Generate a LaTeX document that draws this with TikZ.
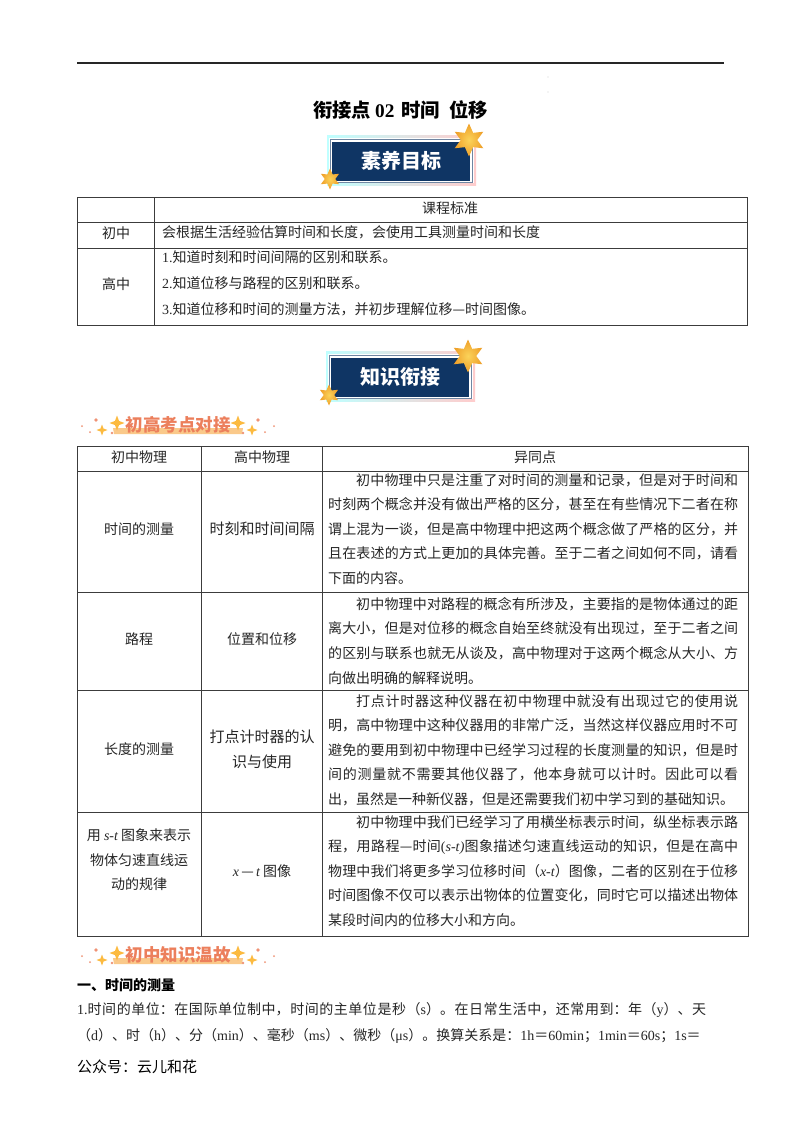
\documentclass[tikz,border=0pt]{standalone}
\usepackage{fontspec}
\setmainfont{Noto Sans CJK SC}
\newfontfamily\latfont{Liberation Serif}
\usetikzlibrary{shapes.geometric}
\XeTeXlinebreaklocale "zh"
\XeTeXlinebreakskip=0pt plus 3pt
\newcommand{\lat}[1]{{\latfont #1}}
\definecolor{navyfill}{HTML}{0F3564}
\definecolor{goldstar}{HTML}{FBD35A}
\definecolor{goldedge}{HTML}{EFA02A}
\definecolor{barfill}{HTML}{FAC98A}
\definecolor{bartext}{HTML}{EC7F5C}
\definecolor{inktext}{HTML}{262626}
\definecolor{gridline}{HTML}{3C3C3C}
% 标题牌：名字, 中心x, 中心y, 文字
\newcommand{\badge}[4]{
  \fill[left color=cyan!25,right color=red!20] (#2-74,#3-26) rectangle (#2+75,#3+24);
  \fill[white] (#2-72,#3-23) rectangle (#2+73,#3+22);
  \draw[navyfill!60,line width=.8] (#2-71,#3-22) rectangle (#2+71,#3+21);
  \node[badgebox] (#1) at (#2,#3) {#4};
  \node[bigstar,minimum size=33] (#1big) at (#2+68,#3-21) {};
  \node[bigstar,minimum size=21] (#1small) at (#2-71,#3+18) {};
}
% 橙色小标题：名字, 中心x, 中心y, 文字
\newcommand{\sparkbar}[4]{
  \fill[barfill] (#2-65,#3+3) -- (#2+65,#3+3) -- (#2+64,#3+9) -- (#2-64,#3+9) -- cycle;
  \node[bartitle] (#1) at (#2,#3) {#4};
  \foreach \dx/\dy/\sz in {-61/-2/15,60/-2/15,-76/5/11,74/5/11}
    \node[sparkle,minimum size=\sz] at (#2+\dx,#3+\dy) {};
  \foreach \dx/\dy/\rr in {-96/1/1,-88/7/1,-82/-5/1.8,-66/8/1.3,65/8/1.3,80/-5/1.8,87/7/1,96/1/1}
    \fill[bartext!85] (#2+\dx,#3+\dy) circle (\rr);
}
\begin{document}
\begin{tikzpicture}[x=1pt,y=-1pt,
  bodytext/.style={font=\fontsize{14}{24.6}\selectfont,text=inktext,inner sep=0pt},
  cellc/.style={bodytext,align=center},
  cellj/.style={bodytext,anchor=north west,text width=410,align=justify},
  linetext/.style={bodytext,anchor=west},
  grid/.style={gridline,line width=1},
  badgebox/.style={fill=navyfill,minimum width=138,minimum height=39,inner sep=0pt,text=white,font=\fontsize{20}{24}\bfseries\selectfont},
  bigstar/.style={star,star points=6,star point ratio=2,inner color=goldstar,outer color=goldedge,inner sep=0pt},
  sparkle/.style={star,star points=4,star point ratio=2.6,fill=goldstar!70!orange,inner sep=0pt},
  bartitle/.style={text=bartext,font=\fontsize{17.5}{20}\bfseries\selectfont,inner sep=0pt},
]
  \useasboundingbox (0,0) rectangle (800,1132);
  \fill[white] (0,0) rectangle (800,1132);

  \draw[black!85,line width=1.3] (77,63) -- (724,63);
  \fill[black!50] (548,77) circle (.4) (548,92) circle (.4);
  \node[font=\fontsize{19.3}{22}\bfseries\selectfont,inner sep=0pt] (title) at (400.5,110) {衔接点\hspace{4pt}\lat{02}\hspace{7pt}时间\hspace{9pt}位移};

  \badge{goal}{401}{161}{素养目标}

  % 课程标准
  \draw[grid] (77,197) rectangle (747,325);
  \draw[grid] (154,197) -- (154,325);
  \foreach \y in {222,248} \draw[grid] (77,\y) -- (747,\y);
  \node[cellc] (std) at (450,208) {课程标准};
  \node[cellc] (juna) at (116,233) {初中};
  \node[cellc] (sena) at (116,284) {高中};
  \node[linetext] (junb) at (162,232) {会根据生活经验估算时间和长度，会使用工具测量时间和长度};
  \node[linetext] (senb) at (162,257) {\lat{1.}知道时刻和时间间隔的区别和联系。};
  \node[linetext] (senc) at (162,283) {\lat{2.}知道位移与路程的区别和联系。};
  \node[linetext] (send) at (162,309) {\lat{3.}知道位移和时间的测量方法，并初步理解位移—时间图像。};

  \badge{link}{400}{377}{知识衔接}
  \sparkbar{barone}{178}{425}{初高考点对接}

  % 对比表
  \draw[grid] (77,446) rectangle (748,936);
  \draw[grid] (201,446) -- (201,936);
  \draw[grid] (322,446) -- (322,936);
  \foreach \y in {471,592,690,812} \draw[grid] (77,\y) -- (748,\y);
  \node[cellc] (heada) at (139,457) {初中物理};
  \node[cellc] (headb) at (262,457) {高中物理};
  \node[cellc] (headc) at (535,457) {异同点};
  \node[cellc] (rowaa) at (139,529) {时间的测量};
  \node[cellc,font=\fontsize{15}{24.6}\selectfont] (rowab) at (262,529) {时刻和时间间隔};
  \node[cellc] (rowba) at (139,639) {路程};
  \node[cellc] (rowbb) at (262,639) {位置和位移};
  \node[cellc] (rowca) at (139,749) {长度的测量};
  \node[cellc,font=\fontsize{15}{24.6}\selectfont] (rowcb) at (262,749) {打点计时器的认\\识与使用};
  \node[cellc] (rowda) at (139,860) {用 \lat{\itshape s-t} 图象来表示\\物体匀速直线运\\动的规律};
  \node[cellc] (rowdb) at (262,871) {\lat{\itshape x}\,—\,\lat{\itshape t} 图像};

  \node[cellj] (rowac) at (328,473) {\hspace*{28pt}初中物理中只是注重了对时间的测量和记录，但是对于时间和\linebreak
    时刻两个概念并没有做出严格的区分，甚至在有些情况下二者在称\linebreak
    谓上混为一谈，但是高中物理中把这两个概念做了严格的区分，并\linebreak
    且在表述的方式上更加的具体完善。至于二者之间如何不同，请看\linebreak
    下面的内容。};
  \node[cellj] (rowbc) at (328,597) {\hspace*{28pt}初中物理中对路程的概念有所涉及，主要指的是物体通过的距\linebreak
    离大小，但是对位移的概念自始至终就没有出现过，至于二者之间\linebreak
    的区别与联系也就无从谈及，高中物理对于这两个概念从大小、方\linebreak
    向做出明确的解释说明。};
  \node[cellj] (rowcc) at (328,694) {\hspace*{28pt}打点计时器这种仪器在初中物理中就没有出现过它的使用说\linebreak
    明，高中物理中这种仪器用的非常广泛，当然这样仪器应用时不可\linebreak
    避免的要用到初中物理中已经学习过程的长度测量的知识，但是时\linebreak
    间的测量就不需要其他仪器了，他本身就可以计时。因此可以看\linebreak
    出，虽然是一种新仪器，但是还需要我们初中学习到的基础知识。};
  \node[cellj] (rowdc) at (328,815) {\hspace*{28pt}初中物理中我们已经学习了用横坐标表示时间，纵坐标表示路\linebreak
    程，用路程—时间\lat{(\itshape s-t\/)}图象描述匀速直线运动的知识，但是在高中\linebreak
    物理中我们将更多学习位移时间（\lat{\itshape x-t}）图像，二者的区别在于位移\linebreak
    时间图像不仅可以表示出物体的位置变化，同时它可以描述出物体\linebreak
    某段时间内的位移大小和方向。};

  \sparkbar{bartwo}{178}{955}{初中知识温故}

  \node[anchor=west,inner sep=0pt,text=black,font=\fontsize{14}{18}\bfseries\selectfont] (sect) at (77,985) {一、时间的测量};
  \node[bodytext,anchor=north west,text width=629,align=justify,font=\fontsize{14}{26}\selectfont] (unit) at (77,1002) {\lat{1.}时间的单位：在国际单位制中，时间的主单位是秒（\lat{s}）。在日常生活中，还常用到：年（\lat{y}）、天\linebreak
    （\lat{d}）、时（\lat{h}）、分（\lat{min}）、毫秒（\lat{ms}）、微秒（\lat{μs}）。换算关系是：\lat{1h}＝\lat{60min}；\lat{1min}＝\lat{60s}；\lat{1s}＝};
  \node[anchor=west,inner sep=0pt,font=\fontsize{15}{18}\selectfont] (wechat) at (77,1067) {公众号：云儿和花};
\end{tikzpicture}
\end{document}
